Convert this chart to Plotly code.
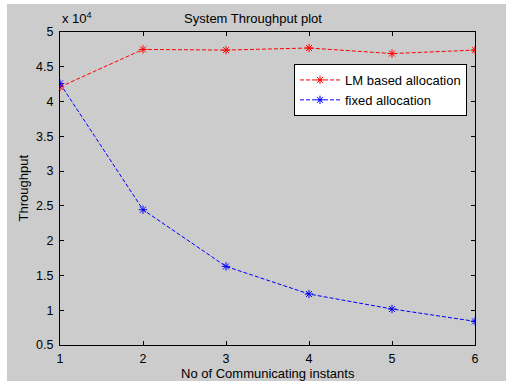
import plotly.graph_objects as go

x_instants = [1, 2, 3, 4, 5, 6]
lm_based = [42100, 47500, 47400, 47700, 46900, 47400]
fixed_alloc = [42600, 24450, 16300, 12330, 10180, 8400]
y_tick_vals = [5000, 10000, 15000, 20000, 25000, 30000, 35000, 40000, 45000, 50000]
y_tick_text = ["0.5", "1", "1.5", "2", "2.5", "3", "3.5", "4", "4.5", "5"]
x_tick_vals = [1, 2, 3, 4, 5, 6]

FONT = "Liberation Sans, Arial, sans-serif"
FS = 13
TFS = 12.5

fig = go.Figure()
fig.add_trace(go.Scatter(
    x=x_instants, y=lm_based, mode="lines+markers", name="LM based allocation",
    line=dict(color="#ff0000", width=1, dash="4px,2px"),
    marker=dict(symbol="asterisk-open", size=7, color="#ff0000", line=dict(color="#ff0000", width=1)),
))
fig.add_trace(go.Scatter(
    x=x_instants, y=fixed_alloc, mode="lines+markers", name="fixed allocation",
    line=dict(color="#0000ff", width=1, dash="4px,2px"),
    marker=dict(symbol="asterisk-open", size=7, color="#0000ff", line=dict(color="#0000ff", width=1)),
))

L, R, T, B = 60, 31, 32, 36
W, H = 506, 381
pw, ph = W - L - R, H - T - B

def px_x(p):
    return (p - L) / pw

def px_y(p):
    return (H - B - p) / ph

fig.update_layout(
    width=W, height=H,
    margin=dict(l=L, r=R, t=T, b=B, pad=0),
    paper_bgcolor="#ffffff",
    plot_bgcolor="#ffffff",
    font=dict(family=FONT, size=FS, color="#000000"),
    title=dict(text="System Throughput plot", x=px_x(267.5), xanchor="center",
               y=1 - 18 / H, yanchor="middle", font=dict(size=FS)),
    showlegend=True,
    legend=dict(
        x=px_x(467), xanchor="right", y=px_y(90), yanchor="middle",
        bgcolor="#ffffff", bordercolor="#000000", borderwidth=1,
        font=dict(size=FS), tracegroupgap=0, itemwidth=40,
    ),
    xaxis=dict(
        range=[1, 6], tickvals=x_tick_vals, ticks="inside", ticklen=4,
        tickcolor="#000000", showline=True, linecolor="#000000", linewidth=1,
        mirror="ticks", showgrid=False, zeroline=False, ticklabelstandoff=2,
        automargin=False, tickfont=dict(size=TFS),
    ),
    yaxis=dict(
        range=[5000, 50000], tickvals=y_tick_vals, ticktext=y_tick_text,
        ticks="inside", ticklen=4, tickcolor="#000000", showline=True,
        linecolor="#000000", linewidth=1, mirror="ticks", showgrid=False,
        zeroline=False, ticklabelstandoff=3, automargin=False,
        tickfont=dict(size=TFS),
    ),
    shapes=[dict(
        type="rect", xref="paper", yref="paper", layer="below",
        x0=px_x(7), x1=px_x(W + 2), y0=px_y(4), y1=px_y(H + 2),
        fillcolor="#cccccc", line=dict(width=0),
    )],
    annotations=[
        dict(text="x 10<sup>4</sup>", xref="paper", yref="paper",
             x=px_x(60), xanchor="left", y=px_y(28), yanchor="bottom",
             showarrow=False, font=dict(size=FS)),
        dict(text="No of Communicating instants", xref="paper", yref="paper",
             x=px_x(267.5), xanchor="center", y=px_y(373), yanchor="middle",
             showarrow=False, font=dict(size=FS), borderpad=0),
        dict(text="Throughput", xref="paper", yref="paper", textangle=-90,
             x=px_x(23), xanchor="center", y=px_y(188.5), yanchor="middle",
             showarrow=False, font=dict(size=FS)),
    ],
)

fig.write_html("out.html")
